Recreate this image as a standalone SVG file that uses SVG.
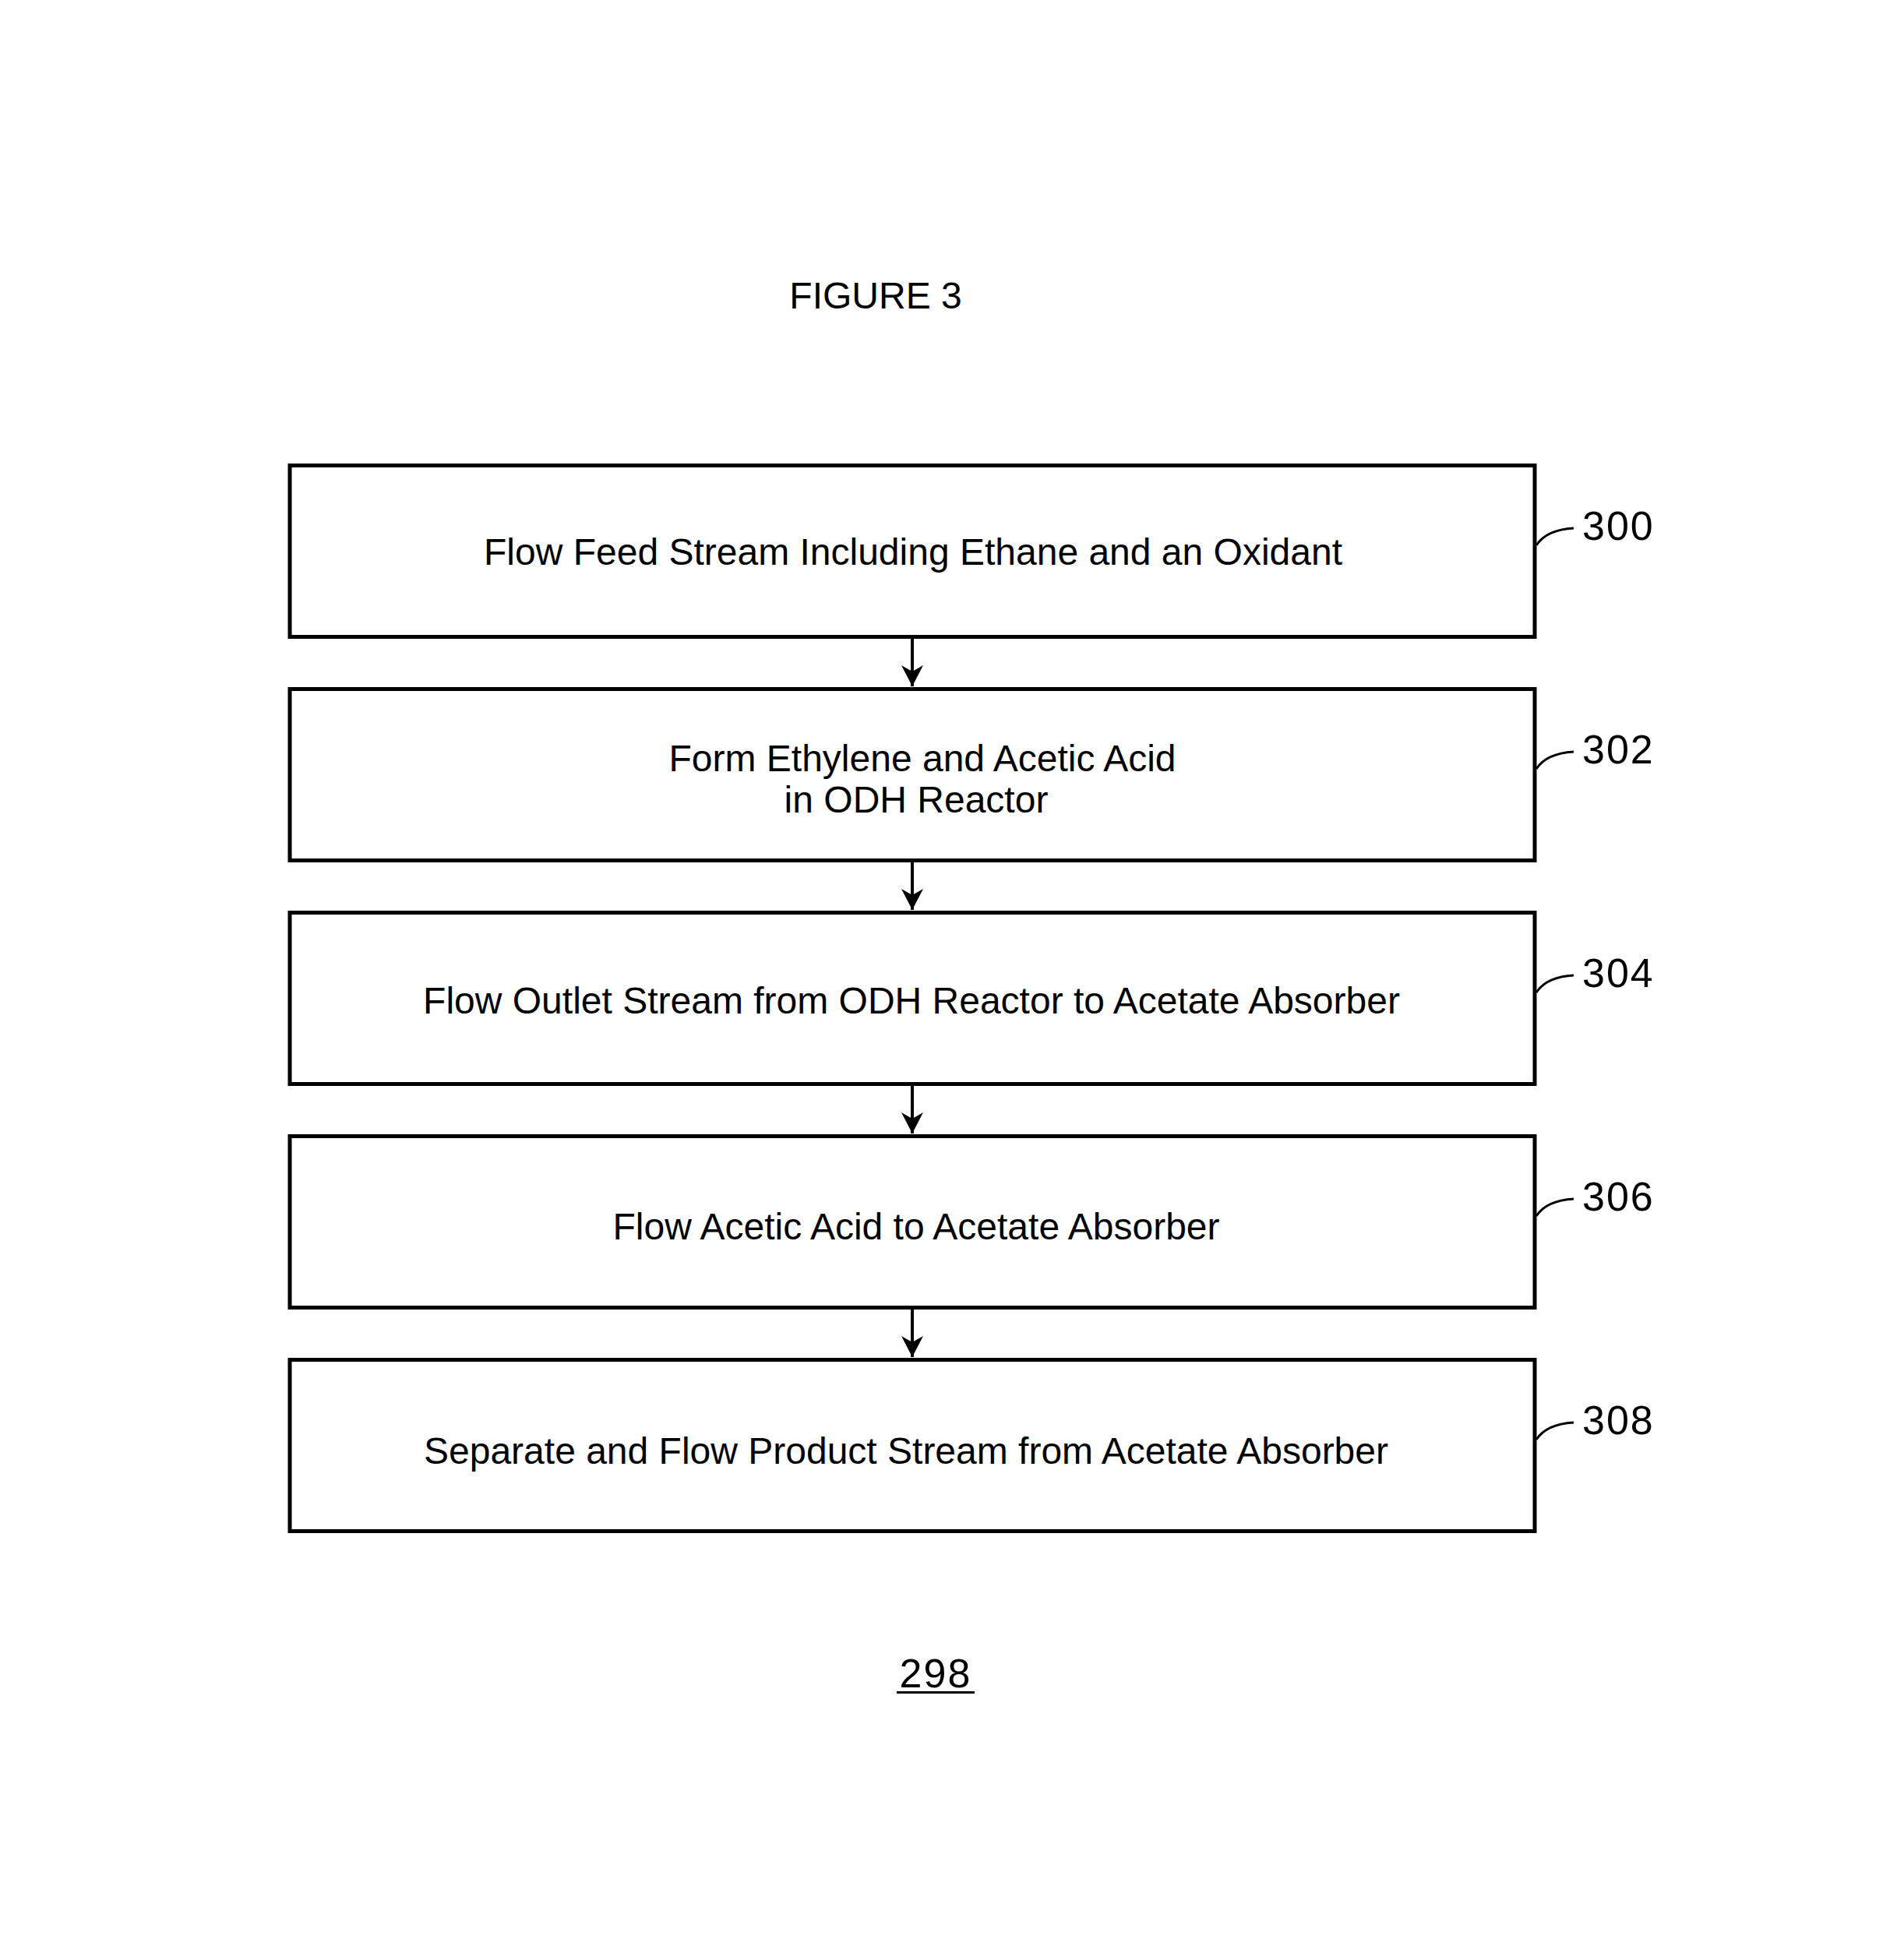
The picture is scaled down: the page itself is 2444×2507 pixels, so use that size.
<svg xmlns="http://www.w3.org/2000/svg" width="2444" height="2507" viewBox="0 0 2444 2507">
<defs>
<style>
.box{fill:#fff;stroke:#000;stroke-width:5}
.t{font-family:"Liberation Sans",Arial,sans-serif;font-size:48px;fill:#000;text-anchor:middle}
.lbl{font-family:"Liberation Sans",Arial,sans-serif;font-size:52px;fill:#000;letter-spacing:2px}
.lead{fill:none;stroke:#000;stroke-width:3}
.conn{stroke:#000;stroke-width:4;fill:none}
</style>
<marker id="ah" markerUnits="userSpaceOnUse" viewBox="-30 -16 32 32" refX="0" refY="0" markerWidth="32" markerHeight="32" orient="auto">
<path d="M0,0 L-27,-14 L-19,0 L-27,14 Z" fill="#000"/>
</marker>
</defs>
<rect width="2444" height="2507" fill="#fff"/>
<text class="t" x="1124" y="396">FIGURE 3</text>
<g id="connectors">
<line class="conn" x1="1171" y1="820" x2="1171" y2="881" marker-end="url(#ah)"/>
<line class="conn" x1="1171" y1="1107" x2="1171" y2="1168" marker-end="url(#ah)"/>
<line class="conn" x1="1171" y1="1394" x2="1171" y2="1455" marker-end="url(#ah)"/>
<line class="conn" x1="1171" y1="1681" x2="1171" y2="1742" marker-end="url(#ah)"/>
</g>
<g id="n300">
<rect class="box" x="372" y="597.5" width="1598" height="220"/>
<text class="t" x="1172" y="725">Flow Feed Stream Including Ethane and an Oxidant</text>
<path class="lead" d="M1972,700 Q1985,680 2020,678"/>
<text class="lbl" x="2031" y="693">300</text>
</g>
<g id="n302">
<rect class="box" x="372" y="884.5" width="1598" height="220"/>
<text class="t" x="1184" y="990">Form Ethylene and Acetic Acid</text>
<text class="t" x="1176" y="1043">in ODH Reactor</text>
<path class="lead" d="M1972,987 Q1985,967 2020,965"/>
<text class="lbl" x="2031" y="980">302</text>
</g>
<g id="n304">
<rect class="box" x="372" y="1171.5" width="1598" height="220"/>
<text class="t" x="1170" y="1301">Flow Outlet Stream from ODH Reactor to Acetate Absorber</text>
<path class="lead" d="M1972,1274 Q1985,1254 2020,1252"/>
<text class="lbl" x="2031" y="1267">304</text>
</g>
<g id="n306">
<rect class="box" x="372" y="1458.5" width="1598" height="220"/>
<text class="t" x="1176" y="1591">Flow Acetic Acid to Acetate Absorber</text>
<path class="lead" d="M1972,1561 Q1985,1541 2020,1539"/>
<text class="lbl" x="2031" y="1554">306</text>
</g>
<g id="n308">
<rect class="box" x="372" y="1745.5" width="1598" height="220"/>
<text class="t" x="1163" y="1879">Separate and Flow Product Stream from Acetate Absorber</text>
<path class="lead" d="M1972,1848 Q1985,1828 2020,1826"/>
<text class="lbl" x="2031" y="1841">308</text>
</g>
<text class="lbl" x="1201" y="2166" text-anchor="middle">298</text>
<line x1="1151" y1="2172.5" x2="1251" y2="2172.5" stroke="#000" stroke-width="3"/>
</svg>
